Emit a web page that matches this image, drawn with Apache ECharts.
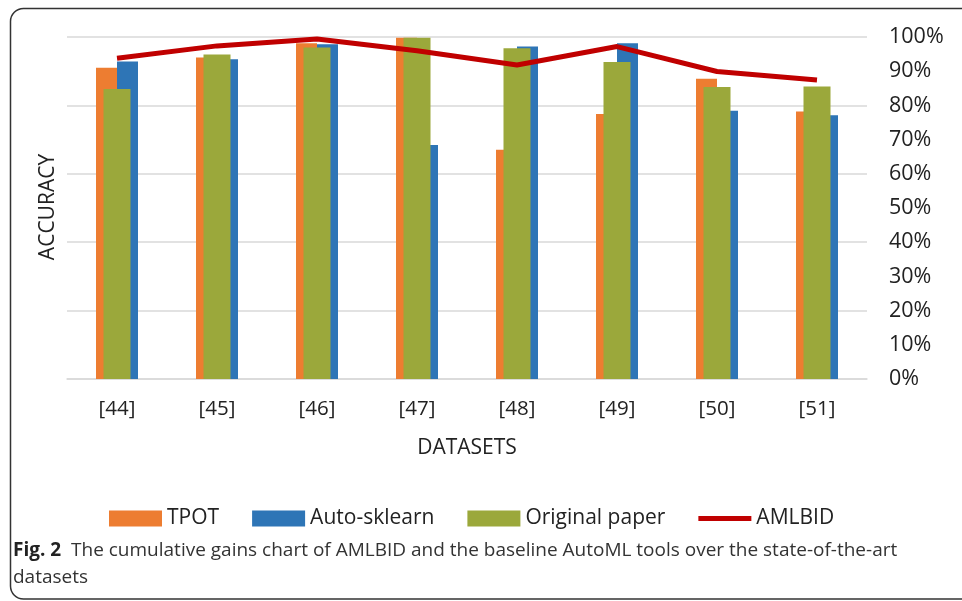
<!DOCTYPE html>
<html>
<head>
<meta charset="utf-8">
<script src="https://cdn.jsdelivr.net/npm/echarts@6/dist/echarts.min.js"></script>
<style>
html,body{margin:0;padding:0;background:#fff;}
#chart{width:962px;height:601px;}
</style>
</head>
<body>
<div id="chart"></div>
<script>
const categories = ['[44]','[45]','[46]','[47]','[48]','[49]','[50]','[51]'];
const tpot        = [0.910, 0.940, 0.982, 0.998, 0.670, 0.775, 0.878, 0.782];
const autoSklearn = [0.928, 0.935, 0.979, 0.684, 0.972, 0.982, 0.784, 0.771];
const originalPaper = [0.848, 0.949, 0.969, 0.998, 0.967, 0.927, 0.854, 0.855];
const amlbid      = [0.938, 0.974, 0.994, 0.960, 0.918, 0.972, 0.899, 0.874];
const leftTicks = [0, 0.2, 0.4, 0.6, 0.8, 1];

const FONT = '"Open Sans", "Liberation Sans", Arial, sans-serif';
const chart = echarts.init(document.getElementById('chart'));
chart.setOption({
  animation: false,
  textStyle: {fontFamily: FONT},
  grid: {left: 67, right: 95, top: 37, bottom: 222},
  legend: {
    left: 104, top: 503,
    itemWidth: 53, itemHeight: 16, itemGap: 33,
    textStyle: {fontSize: 21, color: '#222', fontFamily: FONT},
    data: [
      {name: 'TPOT', icon: 'rect'},
      {name: 'Auto-sklearn', icon: 'rect'},
      {name: 'Original paper', icon: 'rect'},
      {name: 'AMLBID', icon: 'path://M0,0 H53 V5 H0 Z'}
    ]
  },
  xAxis: [
    {
      type: 'category', data: categories,
      axisLine: {lineStyle: {color: '#d9d9d9', width: 1.5}},
      axisTick: {length: 7, lineStyle: {color: '#d9d9d9', width: 1.5}},
      axisLabel: {fontSize: 20.5, color: '#222', margin: 20}
    },
    {
      type: 'category', data: categories, show: false
    }
  ],
  yAxis: [
    {
      type: 'value', min: leftTicks[0], max: leftTicks[leftTicks.length-1], interval: 0.2,
      axisLabel: {show: false}, axisLine: {show: false}, axisTick: {show: false},
      splitLine: {lineStyle: {color: '#d9d9d9', width: 1.5}}
    },
    {
      type: 'value', min: 0, max: 1, interval: 0.1, position: 'right',
      axisLine: {show: false}, axisTick: {show: false}, splitLine: {show: false},
      axisLabel: {fontSize: 21.5, color: '#222', margin: 22,
        formatter: v => Math.round(v * 100) + '%'}
    }
  ],
  series: [
    {name: 'TPOT', type: 'bar', xAxisIndex: 0, yAxisIndex: 0, data: tpot,
     barWidth: 21, barGap: '0%', itemStyle: {color: '#ED7D31'}},
    {name: 'Auto-sklearn', type: 'bar', xAxisIndex: 0, yAxisIndex: 0, data: autoSklearn,
     barWidth: 21, barGap: '0%', itemStyle: {color: '#2E75B6'}},
    {name: 'Original paper', type: 'bar', xAxisIndex: 1, yAxisIndex: 0, data: originalPaper,
     barWidth: 27, itemStyle: {color: '#9BA83B'}},
    {name: 'AMLBID', type: 'line', xAxisIndex: 0, yAxisIndex: 1, data: amlbid,
     symbol: 'none', lineStyle: {color: '#C00000', width: 5, cap: 'butt'},
     itemStyle: {color: '#C00000'}}
  ],
  graphic: [
    {type: 'rect', shape: {x: 10.5, y: 8.5, width: 1000, height: 590.5, r: 13},
     style: {fill: 'none', stroke: '#333', lineWidth: 1.5}, silent: true},
    {type: 'text', x: 48, y: 207, rotation: Math.PI / 2,
     style: {text: 'ACCURACY', fontSize: 21, fill: '#222', fontFamily: FONT,
             align: 'center', verticalAlign: 'middle'}},
    {type: 'text', x: 467, y: 448,
     style: {text: 'DATASETS', fontSize: 21, fill: '#222', fontFamily: FONT,
             align: 'center', verticalAlign: 'middle'}},
    {type: 'text', x: 13, y: 551,
     style: {text: '{b|Fig. 2}  The cumulative gains chart of AMLBID and the baseline AutoML tools over the state-of-the-art',
             fontSize: 19, fill: '#333', fontFamily: FONT, verticalAlign: 'middle',
             rich: {b: {fontWeight: 'bold', fontSize: 19, fill: '#222', fontFamily: FONT}}}},
    {type: 'text', x: 13, y: 578,
     style: {text: 'datasets', fontSize: 19, fill: '#333', fontFamily: FONT, verticalAlign: 'middle'}}
  ]
});
</script>
</body>
</html>
